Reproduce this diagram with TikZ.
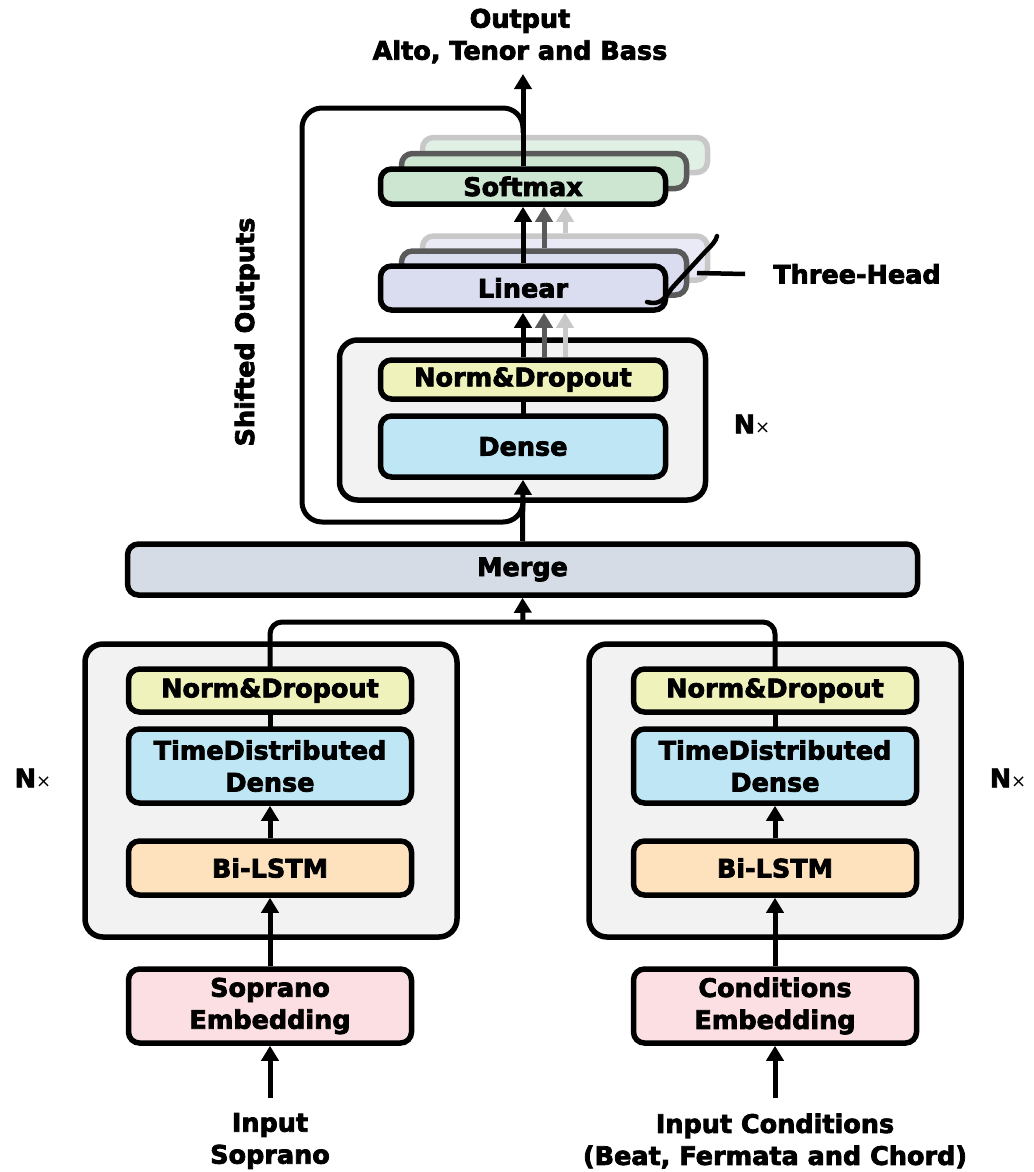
\documentclass[tikz,border=0pt]{standalone}
\usepackage{fontspec}
\setmainfont{DejaVu Sans}[UprightFont={* Bold}, BoldFont={* Bold}, UprightFeatures={FakeBold=3}, BoldFeatures={FakeBold=3}]
\newfontfamily\plainf{DejaVu Sans}
\usetikzlibrary{arrows.meta,calc}
\definecolor{cSoft}{HTML}{CCE6D2}
\definecolor{cLin}{HTML}{DADCF0}
\definecolor{cNorm}{HTML}{F0F2BC}
\definecolor{cDense}{HTML}{BEE6F4}
\definecolor{cMerge}{HTML}{D5DCE5}
\definecolor{cOuter}{HTML}{F2F2F2}
\definecolor{cLstm}{HTML}{FDE2BD}
\definecolor{cEmb}{HTML}{FBDFE2}
\definecolor{cMid}{HTML}{5A5A5A}
\definecolor{cBack}{HTML}{C8C8C8}
\begin{document}
\begin{tikzpicture}[x=1pt,y=-1pt,
  every node/.style={font=\fontsize{25.5}{32}\selectfont, align=center, text=black, inner sep=0pt},
  blk/.style={draw=black, line width=5.5pt, rounded corners=11pt},
  outerbox/.style={draw=black, line width=5.5pt, rounded corners=18pt, fill=cOuter},
  midlayer/.style={draw=cMid, line width=5.5pt, rounded corners=11pt},
  backlayer/.style={draw=cBack, line width=5.5pt, rounded corners=11pt},
  arr/.style={line width=5pt, -{Triangle[length=15pt,width=17pt]}},
  wire/.style={line width=5pt, line cap=round, line join=round},
  nx/.style={font=\fontsize{25.5}{32}\selectfont}
]
\useasboundingbox (0,0) rectangle (1033,1172);

% ---------------- top texts
\node (out) at (520,36) {Output\\Alto, Tenor and Bass};

% ---------------- shifted outputs loop
\draw[wire, rounded corners=20pt] (523,496) |- (302,522) -- (302,108) -- (523,108) -- (523,132);
\node[rotate=90] (shift) at (247,332) {Shifted Outputs};

% ---------------- softmax stack
\node[backlayer, fill=cSoft!60!white, minimum width=285pt, minimum height=35pt] (smxB) at (565,155) {};
\node[midlayer, fill=cSoft, minimum width=285pt, minimum height=35pt] (smxM) at (544,171) {};
\node[blk, fill=cSoft, minimum width=285pt, minimum height=35pt] (smx) at (523,186.5) {Softmax};

% ---------------- linear stack
\node[backlayer, fill=cLin!60!white, minimum width=285pt, minimum height=44pt] (linB) at (565,258) {};
\node[midlayer, fill=cLin, minimum width=285pt, minimum height=44pt] (linM) at (544,273) {};
\node[blk, fill=cLin, minimum width=285pt, minimum height=44pt] (lin) at (523,288) {Linear};

% ---------------- decoder block
\node[outerbox, minimum width=366pt, minimum height=160pt] (dec) at (522.5,420) {};
\node[blk, fill=cNorm, minimum width=285pt, minimum height=39pt] (dnorm) at (523,379.5) {Norm\&Dropout};
\node[blk, fill=cDense, minimum width=285pt, minimum height=61pt] (dense) at (523,446.5) {Dense};
\node[nx] (nxd) at (752,424) {N{\plainf\fontsize{18}{20}\selectfont ×}};

% ---------------- merge
\node[blk, fill=cMerge, minimum width=790pt, minimum height=51pt] (merge) at (522.5,569.5) {Merge};

% ---------------- left encoder
\node[outerbox, minimum width=372pt, minimum height=293pt] (encL) at (271,790.5) {};
\node[blk, fill=cNorm, minimum width=283pt, minimum height=43pt] (normL) at (270,690.5) {Norm\&Dropout};
\node[blk, fill=cDense, minimum width=283pt, minimum height=74pt] (tdL) at (270,766) {TimeDistributed\\Dense};
\node[blk, fill=cLstm, minimum width=283pt, minimum height=54pt] (lstmL) at (270,868) {Bi-LSTM};
\node[blk, fill=cEmb, minimum width=283pt, minimum height=74pt] (embL) at (270,1006) {Soprano\\Embedding};
\node (inL) at (270,1141) {Input\\Soprano};
\node[nx] (nxL) at (33,778) {N{\plainf\fontsize{18}{20}\selectfont ×}};

% ---------------- right encoder
\node[outerbox, minimum width=372pt, minimum height=293pt] (encR) at (775,790.5) {};
\node[blk, fill=cNorm, minimum width=283pt, minimum height=43pt] (normR) at (775,690.5) {Norm\&Dropout};
\node[blk, fill=cDense, minimum width=283pt, minimum height=74pt] (tdR) at (775,766) {TimeDistributed\\Dense};
\node[blk, fill=cLstm, minimum width=283pt, minimum height=54pt] (lstmR) at (775,868) {Bi-LSTM};
\node[blk, fill=cEmb, minimum width=283pt, minimum height=74pt] (embR) at (775,1006) {Conditions\\Embedding};
\node (inR) at (775,1141) {Input Conditions\\(Beat, Fermata and Chord)};
\node[nx] (nxR) at (1008,778) {N{\plainf\fontsize{18}{20}\selectfont ×}};

% ---------------- encoder connectors
\coordinate (inLs) at (270,1098);
\coordinate (inRs) at (775,1098);
\draw[arr] (inLs) -- (embL.south);
\draw[arr] (inRs) -- (embR.south);
\draw[arr] (embL.north) -- (lstmL.south);
\draw[arr] (embR.north) -- (lstmR.south);
\draw[arr] (lstmL.north) -- (tdL.south);
\draw[arr] (lstmR.north) -- (tdR.south);
\draw[wire] (tdL.north) -- (normL.south);
\draw[wire] (tdR.north) -- (normR.south);
\coordinate (join) at (523,622);
\draw[wire, rounded corners=12pt] (normL.north) |- (join) -| (normR.north);
\draw[arr] (join) -- (merge.south);

% ---------------- decoder connectors
\draw[arr] (merge.north) -- (dense.south);
\draw[wire] (dense.north) -- (dnorm.south);
\draw[arr] (dnorm.north) -- (lin.south);
\draw[arr, draw=cMid, fill=cMid] (dnorm.north -| linM.north) -- (lin.south -| linM.north);
\draw[arr, draw=cBack, fill=cBack] (dnorm.north -| linB.north) -- (lin.south -| linB.north);
\draw[arr] (lin.north) -- (smx.south);
\draw[arr, draw=cMid, fill=cMid] (linM.north) -- (smx.south -| linM.north);
\draw[arr, draw=cBack, fill=cBack] (linB.north) -- (smx.south -| linB.north);
\coordinate (outtip) at (523,74);
\draw[arr] (smx.north) -- (outtip);

% ---------------- three-head marker
\draw[line width=4.5pt, line cap=round] (647,302) .. controls (660,306) and (665,298) .. (672,288) -- (705,252) .. controls (712,245) and (716,241) .. (717,236);
\node (th) at (857,274) {Three-Head};
\coordinate (thl) at (697,273);
\draw[line width=4.5pt] (thl) -- ($(th.west)+(-28,0)$);
\end{tikzpicture}
\end{document}
